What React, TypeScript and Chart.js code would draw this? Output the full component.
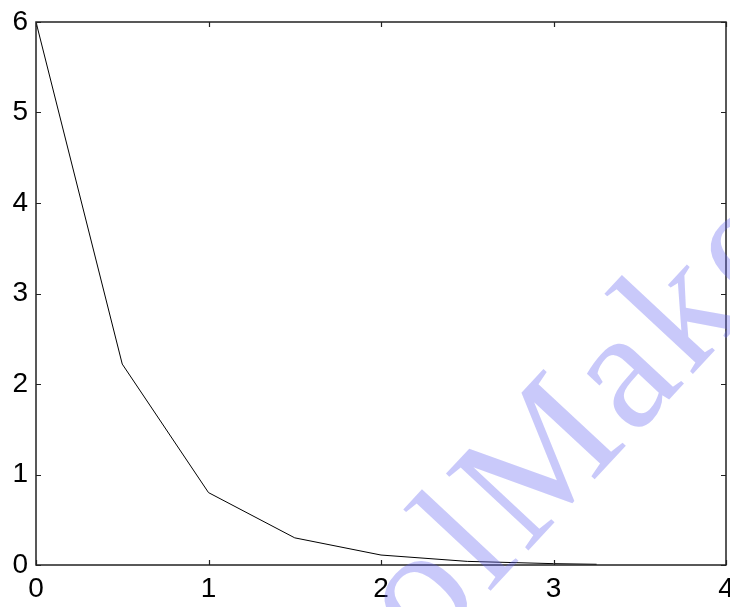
import React, { useEffect, useRef } from "react";
import { Chart, registerables } from "chart.js";

Chart.register(...registerables);

const xValues = [0, 0.5, 1, 1.5, 2, 2.5, 3, 3.25];
const yValues = [6, 2.22, 0.8, 0.3, 0.11, 0.04, 0.015, 0.008];
const xTicks = [0, 1, 2, 3, 4];
const yTicks = [0, 1, 2, 3, 4, 5, 6];
const watermarkText = "ToolMaker";

const boxPlugin = {
  id: "matlabBox",
  afterDatasetsDraw(chart: any) {
    const { ctx, chartArea } = chart;
    const xs = chart.scales.x;
    const ys = chart.scales.y;
    const { left, right, top, bottom } = chartArea;
    ctx.save();
    ctx.strokeStyle = "#222";
    ctx.lineWidth = 1.5;
    ctx.strokeRect(left, top, right - left, bottom - top);
    ctx.lineWidth = 1.2;
    const tl = 5;
    ctx.beginPath();
    xTicks.forEach((v) => {
      const p = Math.round(xs.getPixelForValue(v)) + 0.5;
      ctx.moveTo(p, bottom);
      ctx.lineTo(p, bottom - tl);
      ctx.moveTo(p, top);
      ctx.lineTo(p, top + tl);
    });
    yTicks.forEach((v) => {
      const p = Math.round(ys.getPixelForValue(v)) + 0.5;
      ctx.moveTo(left, p);
      ctx.lineTo(left + tl, p);
      ctx.moveTo(right, p);
      ctx.lineTo(right - tl, p);
    });
    ctx.stroke();
    ctx.restore();
  },
  afterDraw(chart: any) {
    const { ctx } = chart;
    ctx.save();
    ctx.font = '172px "Liberation Serif"';
    (ctx as any).letterSpacing = "6px";
    const pre = ctx.measureText("Tool").width;
    ctx.translate(525, 554);
    ctx.rotate((-47 * Math.PI) / 180);
    ctx.fillStyle = "rgba(100,100,240,0.35)";
    ctx.textBaseline = "alphabetic";
    ctx.fillText(watermarkText, -pre, 0);
    ctx.restore();
  },
};

export default function App() {
  const ref = useRef<HTMLCanvasElement | null>(null);
  useEffect(() => {
    document.body.style.margin = "0";
    const canvas = ref.current!;
    const chart = new Chart(canvas, {
      type: "scatter",
      data: {
        datasets: [
          {
            data: xValues.map((x, i) => ({ x, y: yValues[i] })),
            showLine: true,
            borderColor: "#000",
            borderWidth: 1,
            pointRadius: 0,
            tension: 0,
          },
        ],
      },
      options: {
        animation: false,
        responsive: false,
        devicePixelRatio: 1,
        layout: { padding: { top: 22, right: 4, left: 0, bottom: 0 } },
        plugins: { legend: { display: false }, tooltip: { enabled: false } },
        scales: {
          x: {
            type: "linear",
            min: 0,
            max: 4,
            grid: { display: false, drawTicks: false },
            border: { display: false },
            ticks: {
              stepSize: 1,
              padding: 7,
              color: "#000",
              font: { family: "Liberation Sans", size: 28 },
              maxRotation: 0,
              autoSkip: false,
            },
            afterFit(s: any) {
              s.height = 42;
              s.paddingLeft = 0;
              s.paddingRight = 0;
            },
          },
          y: {
            type: "linear",
            min: 0,
            max: 6,
            grid: { display: false, drawTicks: false },
            border: { display: false },
            ticks: {
              stepSize: 1,
              padding: 8,
              color: "#000",
              font: { family: "Liberation Sans", size: 28 },
              autoSkip: false,
            },
            afterFit(s: any) {
              s.width = 36;
              s.paddingTop = 0;
              s.paddingBottom = 0;
            },
          },
        },
      },
      plugins: [boxPlugin],
    });
    return () => chart.destroy();
  }, []);
  return (
    <canvas
      ref={ref}
      width={730}
      height={607}
      style={{ display: "block", position: "fixed", left: 0, top: 0 }}
    />
  );
}
